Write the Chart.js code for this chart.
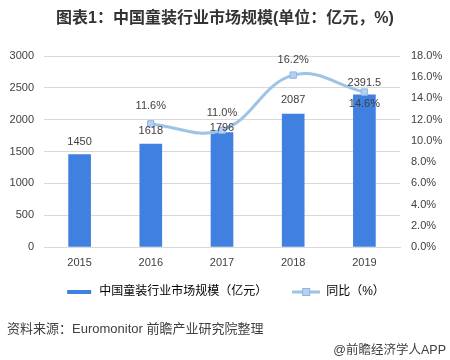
<!DOCTYPE html>
<html><head><meta charset="utf-8">
<script src="https://cdn.jsdelivr.net/npm/chart.js@4/dist/chart.umd.min.js"></script>
<style>
html,body{margin:0;padding:0;background:#fff;}
#wrap{position:relative;width:450px;height:360px;overflow:hidden;font-family:"Liberation Sans","Noto Sans CJK SC",sans-serif;}
#title{position:absolute;left:0;top:4px;width:450px;text-align:center;font-size:16px;font-weight:bold;color:#333;font-family:"Liberation Sans","Noto Sans CJK SC",sans-serif;}
#src{position:absolute;left:7px;top:318px;font-size:13px;color:#404040;}
#app{position:absolute;right:4px;top:339px;font-size:12.5px;color:#404040;}
canvas{position:absolute;left:0;top:0;}
</style></head>
<body><div id="wrap">
<canvas id="c" width="450" height="360"></canvas>
<div id="title">图表1：中国童装行业市场规模(单位：亿元，%)</div>
<div id="src">资料来源：Euromonitor 前瞻产业研究院整理</div>
<div id="app">@前瞻经济学人APP</div>
</div>
<script>
const years = ['2015','2016','2017','2018','2019'];
const marketSize = [1450, 1618, 1796, 2087, 2391.5];
const growthRate = [null, 11.6, 11.0, 16.2, 14.6];
const marketLabels = ['1450','1618','1796','2087','2391.5'];
const growthLabels = ['', '11.6%', '11.0%', '16.2%', '14.6%'];
const barSeriesName = '中国童装行业市场规模（亿元）';
const lineSeriesName = '同比（%）';

// label placement (style, not data)
const barLabelShift = [-13, -13, -5, -14, -12];
const lineLabelShift = [0, -18, -17, -15, 12];

const BAR = '#3F80E0';
const LINE = '#9DC3E6';
const FONT = '"Liberation Sans","Noto Sans CJK SC",sans-serif';

function legendImg(kind){
  const c = document.createElement('canvas');
  c.width = 28; c.height = 10;
  const x = c.getContext('2d');
  if(kind==='bar'){
    x.fillStyle = BAR; x.fillRect(2,3,24,4);
  } else {
    x.strokeStyle = LINE; x.lineWidth = 3;
    x.beginPath(); x.moveTo(0,5); x.lineTo(28,5); x.stroke();
    x.fillStyle = '#B6D0F2'; x.strokeStyle='#8EB4E3'; x.lineWidth=1;
    x.fillRect(10,1,8,8); x.strokeRect(10.5,1.5,7,7);
  }
  return c;
}
const imgBar = legendImg('bar'), imgLine = legendImg('line');

const labelPlugin = {
  id:'vlabels',
  afterDatasetsDraw(chart){
    const ctx = chart.ctx;
    ctx.save();
    ctx.font = '11px ' + FONT;
    ctx.fillStyle = '#404040';
    ctx.textAlign = 'center';
    ctx.textBaseline = 'middle';
    chart.getDatasetMeta(1).data.forEach((el,i)=>{
      ctx.fillText(marketLabels[i], el.x, el.y + barLabelShift[i]);
    });
    chart.getDatasetMeta(0).data.forEach((el,i)=>{
      if(growthRate[i]==null) return;
      ctx.fillText(growthLabels[i], el.x, el.y + lineLabelShift[i]);
    });
    ctx.restore();
  }
};

new Chart(document.getElementById('c'), {
  data:{
    labels: years,
    datasets:[
      {type:'line', label: lineSeriesName, data: growthRate, yAxisID:'y1',
       borderColor: LINE, borderWidth:3, tension:0.4, cubicInterpolationMode:'default',
       pointStyle:'rect', pointRadius:4.5, pointBackgroundColor:'#B6D0F2', pointBorderColor:'#8EB4E3', pointBorderWidth:1,
       order:0},
      {type:'bar', label: barSeriesName, data: marketSize, yAxisID:'y',
       backgroundColor: BAR, barThickness:22, order:1}
    ]
  },
  options:{
    responsive:false, animation:false,
    layout:{padding:{top:56,left:0,right:0,bottom:52}},
    plugins:{
      title:{display:false}, tooltip:{enabled:false},
      legend:{
        position:'bottom',
        labels:{
          usePointStyle:true, pointStyleWidth:28,
          font:{size:12, family:FONT}, color:'#404040', padding:15,
          generateLabels(chart){
            return [
              {text: barSeriesName + '   ', pointStyle: imgBar, fillStyle:BAR, strokeStyle:BAR, lineWidth:0, datasetIndex:1, hidden:false},
              {text: lineSeriesName, pointStyle: imgLine, fillStyle:LINE, strokeStyle:LINE, lineWidth:0, datasetIndex:0, hidden:false}
            ];
          }
        }
      }
    },
    scales:{
      x:{
        grid:{display:false, drawTicks:false}, border:{display:true,color:'#d9d9d9'},
        ticks:{font:{size:11,family:FONT}, color:'#404040', padding:9},
        afterFit(s){ s.height = 24; }
      },
      y:{
        position:'left', min:0, max:3000,
        ticks:{stepSize:500, font:{size:11,family:FONT}, color:'#404040', padding:10,
          callback:v=>String(v)},
        grid:{color:'#d9d9d9', drawTicks:false}, border:{display:false},
        afterFit(s){ s.width = 44; }
      },
      y1:{
        position:'right', min:0, max:18,
        ticks:{stepSize:2, font:{size:11,family:FONT}, color:'#404040', padding:11,
          callback:v=>Number(v).toFixed(1)+'%'},
        grid:{display:false, drawTicks:false}, border:{display:false},
        afterFit(s){ s.width = 50; }
      }
    }
  },
  plugins:[labelPlugin]
});
</script>
</body></html>
